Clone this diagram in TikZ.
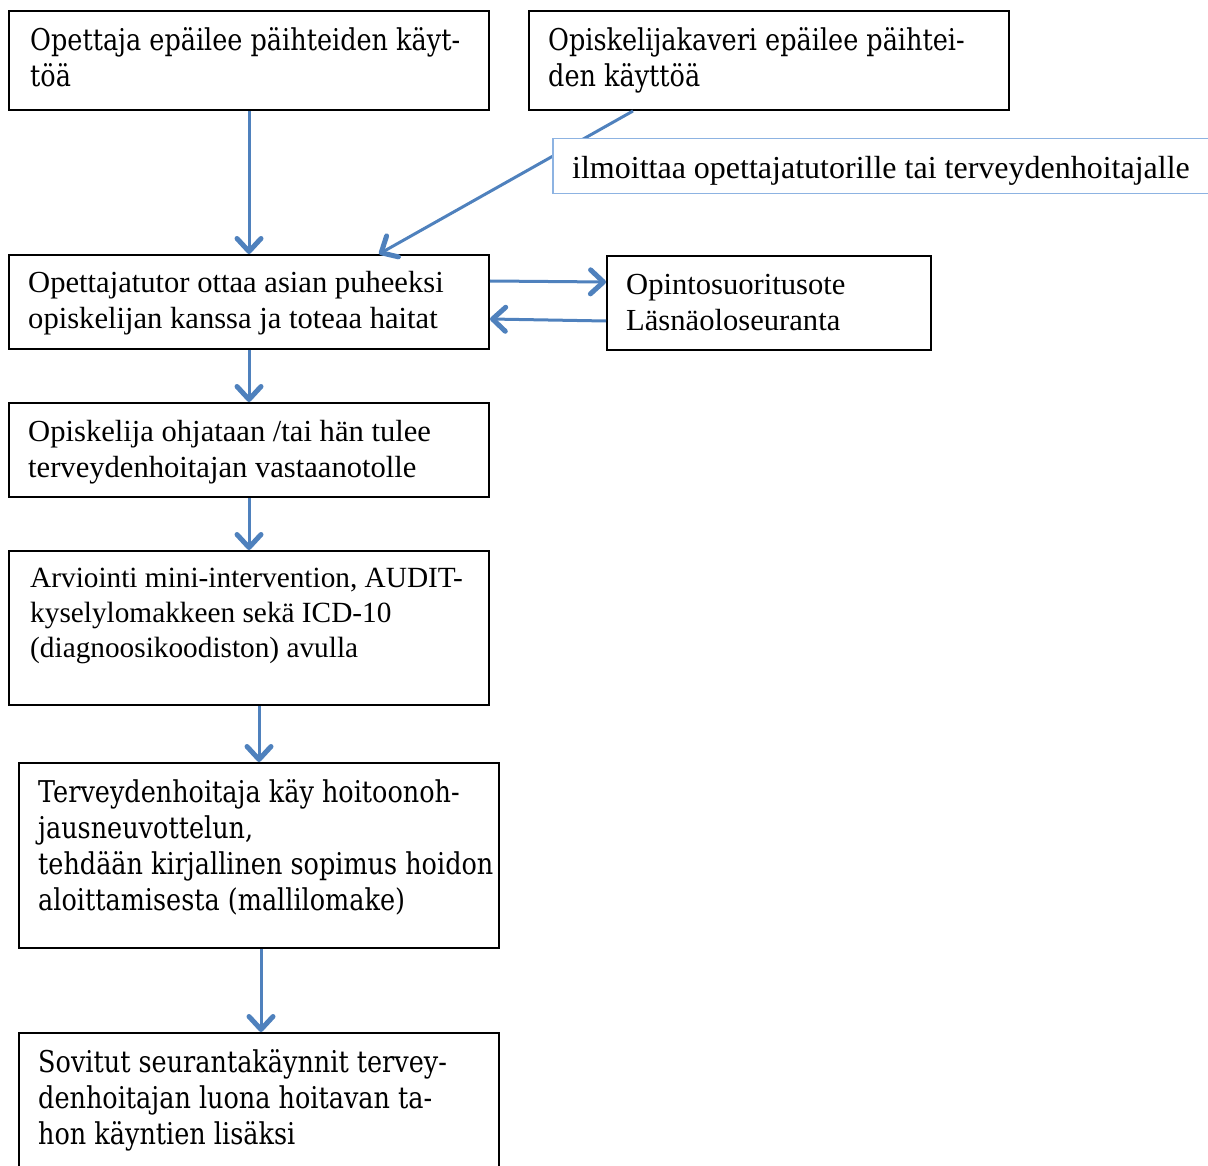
\documentclass[tikz,border=0pt]{standalone}
\usepackage{fontspec}
\setmainfont{Liberation Serif}
\newfontfamily\cambria[FakeStretch=0.85]{DejaVu Serif}
\usetikzlibrary{arrows.meta}
\definecolor{arrowblue}{RGB}{79,129,189}
\definecolor{labelblue}{RGB}{141,179,226}

\begin{document}
\begin{tikzpicture}[x=1pt, y=-1pt,
			box/.style={draw, line width=2pt, anchor=north west, inner sep=0pt, minimum width=480pt},
			txt/.style={anchor=north west, inner sep=0pt, align=left},
			times/.style={font=\fontsize{30.6}{36}\selectfont},
			camb/.style={font=\cambria\fontsize{30}{36}\selectfont},
			flow/.style={draw=arrowblue, line width=3pt, -{Straight Barb[length=13pt, width=24pt, line width=5pt, round]}}]
			
			\useasboundingbox (0,0) rectangle (1208,1166);
			\clip (0,0) rectangle (1208,1166);
			
			% boxes
			\node[box, minimum height=99pt] (opettaja) at (8,10) {};
			\node[box, minimum height=99pt] (kaveri) at (528,10) {};
			\node[box, minimum height=94pt] (tutor) at (8,254) {};
			\node[box, minimum width=324pt, minimum height=94pt] (suoritus) at (606,255) {};
			\node[box, minimum height=94pt] (ohjataan) at (8,402) {};
			\node[box, minimum height=154pt] (arviointi) at (8,550) {};
			\node[box, minimum height=185pt] (hoito) at (18,762) {};
			\node[box, minimum height=185pt] (seuranta) at (18,1032) {};
			
			% texts
			\node[txt, camb] (opettaja-t) at ([shift={(22,17)}]opettaja.north west)
				{Opettaja epäilee päihteiden käyt-\\töä};
			\node[txt, camb] (kaveri-t) at ([shift={(20,17)}]kaveri.north west)
				{Opiskelijakaveri epäilee päihtei-\\den käyttöä};
			\node[txt, times] (tutor-t) at ([shift={(20,17)}]tutor.north west)
				{Opettajatutor ottaa asian puheeksi\\opiskelijan kanssa ja toteaa haitat};
			\node[txt, times] (suoritus-t) at ([shift={(20,19)}]suoritus.north west)
				{Opintosuoritusote\\Läsnäoloseuranta};
			\node[txt, times] (ohjataan-t) at ([shift={(20,18)}]ohjataan.north west)
				{Opiskelija ohjataan /tai hän tulee\\terveydenhoitajan vastaanotolle};
			\node[txt, font=\fontsize{29.3}{35}\selectfont] (arviointi-t) at ([shift={(22,18)}]arviointi.north west)
				{Arviointi mini-intervention, AUDIT-\\kyselylomakkeen sekä ICD-10\\(diagnoosikoodiston) avulla};
			\node[txt, camb] (hoito-t) at ([shift={(20,17)}]hoito.north west)
				{Terveydenhoitaja käy hoitoonoh-\\jausneuvottelun,\\tehdään kirjallinen sopimus hoidon\\aloittamisesta (mallilomake)};
			\node[txt, camb] (seuranta-t) at ([shift={(20,17)}]seuranta.north west)
				{Sovitut seurantakäynnit tervey-\\denhoitajan luona hoitavan ta-\\hon käyntien lisäksi};
			
			% arrows
			\draw[flow] (opettaja.south) -- (tutor.north);
			\draw[flow] ([xshift=-136pt]kaveri.south) -- ([xshift=130pt]tutor.north);
			\node[box, draw=labelblue, line width=1.5pt, fill=white, minimum width=660pt, minimum height=55pt] (ilmoittaa) at (552,138) {};
			\node[txt, font=\fontsize{32}{36}\selectfont] (ilmoittaa-t) at ([shift={(20,18)}]ilmoittaa.north west)
				{ilmoittaa opettajatutorille tai terveydenhoitajalle};
			\draw[flow] ([yshift=21pt]tutor.east) -- ([yshift=21pt]suoritus.west);
			\draw[flow] ([yshift=-18pt]suoritus.west) -- ([yshift=-17pt]tutor.east);
			\draw[flow] (tutor.south) -- (ohjataan.north);
			\draw[flow] (ohjataan.south) -- (arviointi.north);
			\draw[flow] ([xshift=10pt]arviointi.south) -- (hoito.north);
			\draw[flow] ([xshift=2pt]hoito.south) -- ([xshift=2pt]seuranta.north);
\end{tikzpicture}
\end{document}
